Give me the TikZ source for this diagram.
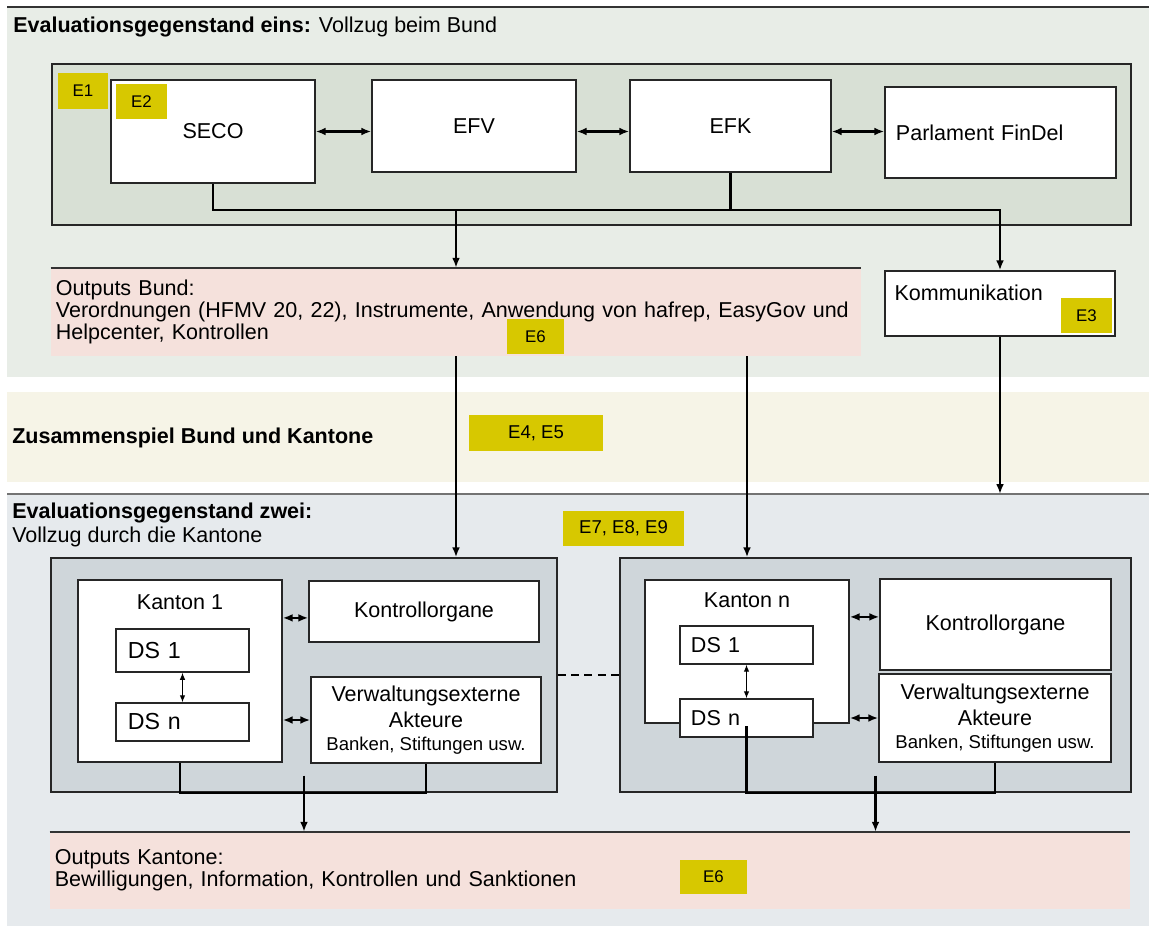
\documentclass[tikz,border=0pt]{standalone}
\usepackage{fontspec}
\setmainfont{Liberation Sans}
\usetikzlibrary{positioning,arrows.meta}

\definecolor{evalgreen}{HTML}{E8EDE7}
\definecolor{bundgreen}{HTML}{D8E0D5}
\definecolor{zusammen}{HTML}{F6F4E7}
\definecolor{evalblue}{HTML}{E6EAED}
\definecolor{kantgrey}{HTML}{CFD6DA}
\definecolor{outrose}{HTML}{F5E1DC}
\definecolor{etag}{HTML}{D7C800}

\newcommand{\fsmain}{\fontsize{15.3pt}{15.5pt}\selectfont}
\newcommand{\fstag}{\fontsize{12pt}{12.5pt}\selectfont}
\newcommand{\fstagbig}{\fontsize{13.2pt}{14pt}\selectfont}
\newcommand{\fssmall}{\fontsize{13.2pt}{14pt}\selectfont}
\newcommand{\fsds}{\fontsize{16.5pt}{17pt}\selectfont}

\tikzset{
  >={Latex[length=7pt,width=5.5pt]},
  box/.style={draw=black!85, line width=1pt, fill=white, inner sep=0pt, font=\fsmain},
  panel/.style={draw=black!85, line width=1pt, fill=kantgrey, inner sep=0pt},
  band/.style={anchor=north west, inner sep=0pt, minimum width=28.55cm},
  tag/.style={fill=etag, inner sep=0pt, minimum height=0.875cm, font=\fstag},
  outbox/.style={fill=outrose, inner xsep=0.125cm, inner ysep=0pt, align=left, font=\fsmain},
  dsbox/.style={box, minimum width=3.325cm, align=left},
  verw/.style={box, align=center, font=\fontsize{15.3pt}{18.5pt}\selectfont},
  conn/.style={line width=1.6pt},
  thinarrow/.style={<->, line width=0.8pt, >={Latex[length=5pt,width=4pt]}},
  topline/.style={line width=1.4pt, black!80},
  title/.style={anchor=base west, inner sep=0pt, font=\fsmain},
}

\begin{document}
\begin{tikzpicture}[x=0.025cm, y=-0.025cm, font=\fsmain]
\useasboundingbox (0,0) rectangle (1149,927);

% bands
\node[band, fill=evalgreen, minimum height=9.25cm] (eins) at (7,7) {};
\node[band, fill=zusammen, minimum height=2.25cm] (zus) at (7,392) {};
\node[band, fill=evalblue, minimum height=10.8cm] (zwei) at (7,494) {};
\draw[topline] (eins.north west) -- (eins.north east);
\draw[topline, black!55] (zwei.north west) -- (zwei.north east);

% titles
\node[title] (t1) at (13,32) {\textbf{Evaluationsgegenstand eins:} Vollzug beim Bund};
\node[title] (t2) at (12,443) {\textbf{Zusammenspiel Bund und Kantone}};
\node[title] (t3) at (12,518) {\textbf{Evaluationsgegenstand zwei:}};
\node[title] (t3b) at (12,542) {Vollzug durch die Kantone};

% Vollzug beim Bund
\node[panel, fill=bundgreen, minimum width=26.975cm, minimum height=4.025cm] (bund) at (591.5,144.5) {};
\node[tag, minimum width=1.25cm, minimum height=0.9cm] (e1) at (83,91) {E1};
\node[box, minimum width=5.1cm, minimum height=2.575cm] (seco) at (213,131.5) {SECO};
\node[tag, minimum width=1.275cm] (e2) at (141.5,101.5) {E2};
\node[box, minimum width=5.1cm, minimum height=2.3cm] (efv) at (474,126) {EFV};
\node[box, minimum width=5.025cm, minimum height=2.3cm] (efk) at (730.5,126) {EFK};
\node[box, minimum width=5.775cm, minimum height=2.275cm, text width=5.225cm, inner xsep=0.275cm, align=left] (parl) at (1000.5,132.5) {Parlament FinDel};

% Outputs Bund
\node[outbox, minimum width=20.25cm, minimum height=2.2cm, text width=20cm] (outB) at (456,312) {Outputs Bund:\\\mbox{Verordnungen (HFMV 20, 22), Instrumente, Anwendung von hafrep, EasyGov und}\\Helpcenter, Kontrollen};
\draw[topline] (outB.north west) -- (outB.north east);
\node[tag, minimum width=1.425cm] (e6a) at (535.5,336.5) {E6};

\node[box, minimum width=5.75cm, minimum height=1.625cm, label={[anchor=north west, inner sep=0pt, xshift=0.25cm, yshift=-0.35cm, font=\fsmain]north west:Kommunikation}] (komm) at (1000,303.5) {};
\node[tag, minimum width=1.275cm] (e3) at (1086.5,315.5) {E3};

% tags in the middle
\node[tag, font=\fstagbig, minimum width=3.35cm, minimum height=0.9cm] (e45) at (536,433) {E4, E5};
\node[tag, font=\fstagbig, minimum width=3.025cm] (e789) at (623.5,528.5) {E7, E8, E9};

% Kanton 1
\node[panel, minimum width=12.65cm, minimum height=5.85cm] (lpan) at (304,675) {};
\node[box, minimum width=5.1cm, minimum height=4.55cm, label={[anchor=north, inner sep=0pt, yshift=-0.375cm, font=\fsmain]north:Kanton 1}] (k1) at (180,671) {};
\node[dsbox, font=\fsds, minimum height=1.075cm, text width=2.725cm, inner xsep=0.3cm] (ds11) at (182.5,650.5) {DS 1};
\node[dsbox, font=\fsds, minimum height=0.95cm, text width=2.725cm, inner xsep=0.3cm] (ds1n) at (182.5,722) {DS n};
\node[box, minimum width=5.75cm, minimum height=1.525cm] (kont1) at (424,611.5) {Kontrollorgane};
\node[verw, minimum width=5.75cm, minimum height=2.15cm] (verw1) at (426,720) {Verwaltungsexterne\\Akteure\\[-2pt]{\fssmall Banken, Stiftungen usw.}};

% Kanton n
\node[panel, minimum width=12.775cm, minimum height=5.85cm] (rpan) at (875.5,675) {};
\node[box, minimum width=5.1cm, minimum height=3.575cm, label={[anchor=north, inner sep=0pt, yshift=-0.325cm, font=\fsmain]north:Kanton n}] (kn) at (747,651.5) {};
\node[dsbox, minimum height=0.95cm, text width=2.775cm, inner xsep=0.275cm] (dsn1) at (746.5,645) {DS 1};
\node[dsbox, minimum height=0.95cm, text width=2.775cm, inner xsep=0.275cm] (dsnn) at (746.5,718) {DS n};
\node[box, minimum width=5.775cm, minimum height=2.275cm] (kontn) at (995.5,624.5) {Kontrollorgane};
\node[verw, minimum width=5.8cm, minimum height=2.2cm] (verwn) at (995,718) {Verwaltungsexterne\\Akteure\\[-2pt]{\fssmall Banken, Stiftungen usw.}};

% Outputs Kantone
\node[outbox, minimum width=27cm, minimum height=1.925cm, text width=26.75cm] (outK) at (590,870.5) {Outputs Kantone:\\Bewilligungen, Information, Kontrollen und Sanktionen};
\draw[topline] (outK.north west) -- (outK.north east);
\node[tag, minimum width=1.675cm, minimum height=0.85cm] (e6b) at (713.5,877) {E6};

% connectors Bund
\draw[conn, <->] (seco.east) -- (seco.east -| efv.west);
\draw[conn, <->] (efv.east |- seco.east) -- (efk.west |- seco.east);
\draw[conn, <->] (efk.east |- seco.east) -- (parl.west |- seco.east);
\coordinate (bus) at (456,210);
\draw[conn] (seco.south) |- (bus) -| (efk.south);
\draw[conn, ->] (efk.south |- bus) -| (komm.north);
\draw[conn, ->] (bus) -- (outB.north);

% Bund to Kantone
\draw[conn, ->] (outB.south) -- (outB.south |- lpan.north);
\draw[conn, ->] (outB.south -| kn.north) -- (kn.north |- rpan.north);
\draw[conn, ->] (komm.south) -- (komm.south |- zwei.north);

% connectors Kanton 1
\coordinate (k1a) at ([yshift=-0.16cm]kont1.west);
\draw[conn, <->] (k1a -| k1.east) -- (k1a);
\draw[conn, <->] (verw1.west -| k1.east) -- (verw1.west);
\draw[thinarrow] (ds11.south) -- (ds1n.north);
\draw[conn] (k1.south) -- (k1.south |- lpan.south) -| (verw1.south);
\draw[conn, ->] ([yshift=0.425cm]lpan.south) -- (lpan.south |- outK.north);

% connectors Kanton n
\coordinate (kna) at ([yshift=0.19cm]kontn.west);
\draw[conn, <->] (kna -| kn.east) -- (kna);
\draw[conn, <->] (verwn.west -| kn.east) -- (verwn.west);
\draw[thinarrow] (dsn1.south) -- (dsnn.north);
\coordinate (dsnx) at ([yshift=-0.2cm]dsnn.center);
\draw[conn] (dsnx) -- (dsnx |- rpan.south) -| (verwn.south);
\draw[conn, ->] ([yshift=0.425cm]rpan.south) -- (rpan.south |- outK.north);

\draw[conn, dash pattern=on 5.5pt off 4pt] (lpan.east) -- (rpan.west);
\end{tikzpicture}
\end{document}
